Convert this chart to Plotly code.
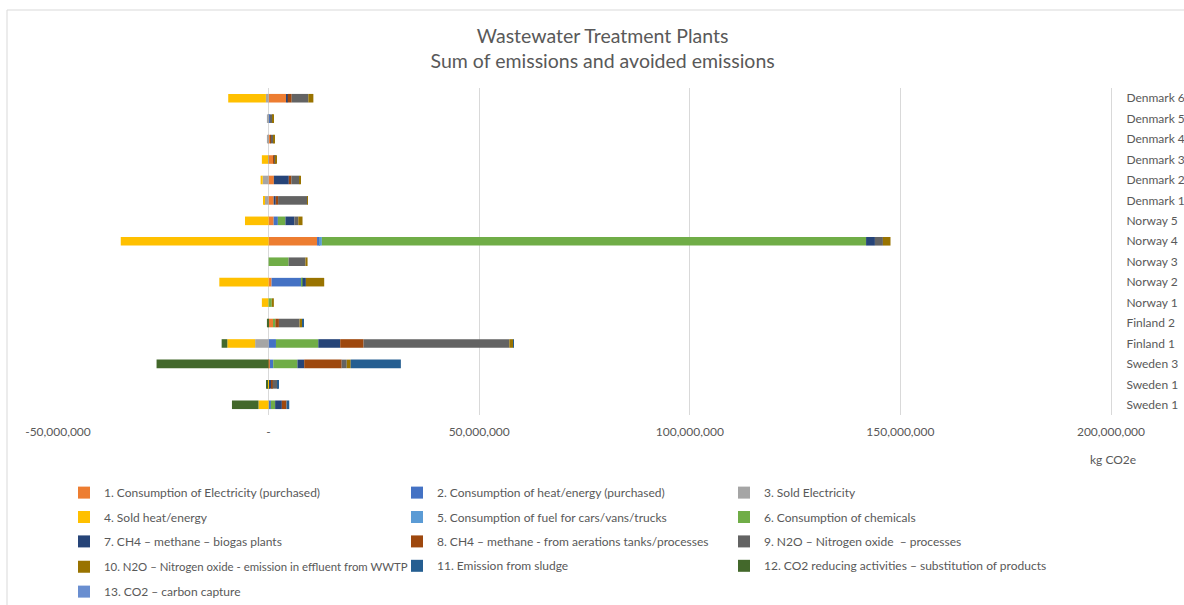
import plotly.graph_objects as go

# Sites in Excel category order (first = bottom of chart)
sites = ["Sweden 1", "Sweden 1", "Sweden 3", "Finland 1", "Finland 2", "Norway 1",
         "Norway 2", "Norway 3", "Norway 4", "Norway 5", "Denmark 1", "Denmark 2",
         "Denmark 3", "Denmark 4", "Denmark 5", "Denmark 6"]

series_names = [
    "1. Consumption of Electricity (purchased)",
    "2. Consumption of heat/energy (purchased)",
    "3. Sold Electricity",
    "4. Sold heat/energy",
    "5. Consumption of fuel for cars/vans/trucks",
    "6. Consumption of chemicals",
    "7. CH4 \u2013 methane \u2013 biogas plants",
    "8. CH4 \u2013 methane - from aerations tanks/processes",
    "9. N2O \u2013 Nitrogen oxide  \u2013 processes",
    "10. N2O \u2013 Nitrogen oxide - emission in effluent from WWTP",
    "11. Emission from sludge",
    "12. CO2 reducing activities \u2013 substitution of products",
    "13. CO2 \u2013 carbon capture",
]

# values in kg CO2e
s1 = [0, 0, 0.3e6, 0, 1.05e6, 0, 0.7e6, 0, 11.5e6, 1.2e6, 1.2e6, 1.25e6, 1.2e6, 0.35e6, 0, 4.2e6]
s2 = [0.55e6, 0.25e6, 0.8e6, 1.75e6, 0, 0, 7.1e6, 0, 0.7e6, 1.0e6, 0, 0, 0, 0, 0.3e6, 0]
s3 = [0, 0, 0, -3.2e6, 0, 0, 0, 0, 0, 0, -1.05e6, -1.4e6, -0.1e6, -0.4e6, -0.4e6, -0.64e6]
s4 = [-2.4e6, -0.2e6, 0, -6.6e6, 0, -1.6e6, -11.7e6, 0, -35.1e6, -5.6e6, -0.25e6, -0.5e6, -1.5e6, 0, 0, -8.95e6]
s5 = [0, 0, 0, 0, 0, 0, 0, 0, 0.45e6, 0, 0, 0, 0, 0, 0, 0]
s6 = [1.0e6, 0, 5.75e6, 10.05e6, 0.55e6, 0.75e6, 0.25e6, 4.75e6, 129.2e6, 1.8e6, 0, 0, 0, 0, 0, 0]
s7 = [1.6e6, 0.4e6, 1.6e6, 5.2e6, 0, 0, 0.8e6, 0, 2.1e6, 2.1e6, 0.5e6, 3.55e6, 0, 0, 0, 0.33e6]
s8 = [1.1e6, 0.3e6, 8.9e6, 5.55e6, 0.85e6, 0, 0, 0, 0, 0, 0.55e6, 0.6e6, 0.25e6, 0.2e6, 0, 0.95e6]
s9 = [0, 1.2e6, 1.2e6, 34.6e6, 4.9e6, 0, 0, 4.0e6, 1.9e6, 0.95e6, 6.9e6, 1.9e6, 0.25e6, 0.55e6, 0.65e6, 3.95e6]
s10 = [0, 0, 0.95e6, 0.95e6, 0.6e6, 0.5e6, 4.35e6, 0.5e6, 1.8e6, 1.0e6, 0.15e6, 0.25e6, 0.25e6, 0.3e6, 0.3e6, 1.2e6]
s11 = [0.65e6, 0.25e6, 11.9e6, 0.15e6, 0.25e6, 0, 0, 0, 0, 0, 0, 0, 0, 0, 0, 0]
s12 = [-6.3e6, -0.3e6, -26.6e6, -1.35e6, -0.4e6, 0, 0, 0, 0, 0, 0, 0, 0, 0, 0, 0]
s13 = [0] * 16

series_values = [s1, s2, s3, s4, s5, s6, s7, s8, s9, s10, s11, s12, s13]

colors = ["#ED7D31", "#4472C4", "#A5A5A5", "#FFC000", "#5B9BD5", "#70AD47",
          "#264478", "#9E480E", "#636363", "#997300", "#255E91", "#43682B", "#698ED0"]

x_tickvals = [-50e6, 0, 50e6, 100e6, 150e6, 200e6]
x_ticktext = ["-50,000,000", "-", "50,000,000", "100,000,000", "150,000,000", "200,000,000"]

FONT = "Lato, 'Open Sans', sans-serif"
TXT = "#595959"

ypos = list(range(len(sites)))
# legend box for each series (3 columns; the long item 10 and item 13 get their own boxes)
legend_ids = ["legend", "legend2", "legend3",
              "legend", "legend2", "legend3",
              "legend", "legend2", "legend3",
              "legend4", "legend2", "legend3",
              "legend5"]

fig = go.Figure()
for i, (name, vals, col) in enumerate(zip(series_names, series_values, colors)):
    fig.add_trace(go.Bar(
        y=ypos, x=vals, name=name, orientation="h",
        marker=dict(color=col, line=dict(width=0)),
        width=0.42,
        legend=legend_ids[i], legendgroup="g%d" % i,
    ))

PL, PW, PH = 58, 1053, 327  # plot area left edge, width, height in px
LEG_Y = -0.193
ROW = 24.75 / PH


def leg(xpx, row=0, size=12):
    return dict(orientation="v", yanchor="top", xanchor="left",
                x=(xpx - PL) / PW, y=LEG_Y - row * ROW,
                traceorder="grouped", tracegroupgap=5.4,
                font=dict(size=size, color=TXT, family=FONT),
                bgcolor="rgba(0,0,0,0)")


fig.update_layout(
    barmode="relative",
    width=1184, height=605,
    paper_bgcolor="white", plot_bgcolor="white",
    margin=dict(l=58, r=73, t=88, b=190, autoexpand=False),
    font=dict(family=FONT, size=12, color=TXT),
    title=dict(
        text="Wastewater Treatment Plants<br>Sum of emissions and avoided emissions",
        x=0.509, xanchor="center", xref="container",
        y=0.929, yanchor="top", yref="container",
        font=dict(family=FONT, size=19.5, color=TXT),
    ),
    xaxis=dict(
        range=[-50e6, 200e6], tickvals=x_tickvals, ticktext=x_ticktext,
        showgrid=True, gridcolor="#D9D9D9", gridwidth=1,
        zeroline=True, zerolinecolor="#D9D9D9", zerolinewidth=1,
        showline=False, ticks="", ticklabelstandoff=8,
        tickfont=dict(size=12, color=TXT),
    ),
    yaxis=dict(
        range=[-0.5, len(sites) - 0.5], tickvals=ypos, ticktext=sites,
        side="right", showgrid=False, zeroline=False,
        showline=True, linecolor="#D9D9D9", linewidth=1,
        ticks="", ticklabelstandoff=12,
        tickfont=dict(size=12, color=TXT),
    ),
    legend=leg(64),
    legend2=leg(397),
    legend3=leg(724),
    legend4=leg(64, row=3, size=11.4),
    legend5=leg(64, row=4),
    showlegend=True,
)

fig.add_annotation(text="kg CO2e", xref="paper", yref="paper",
                   x=(1113 - PL) / PW, y=-0.1376, xanchor="center", yanchor="middle",
                   showarrow=False, font=dict(size=12, color=TXT))

# chart area border
fig.add_shape(type="rect", xref="paper", yref="paper",
              x0=(7 - PL) / PW, x1=1.2, y0=-0.7, y1=(415 - 10) / PH,
              line=dict(color="#D9D9D9", width=1), fillcolor="rgba(0,0,0,0)", layer="below")

fig.write_html("out.html", config={"displayModeBar": False},
               post_script="document.body.style.margin='0px';document.body.style.overflow='hidden';")
